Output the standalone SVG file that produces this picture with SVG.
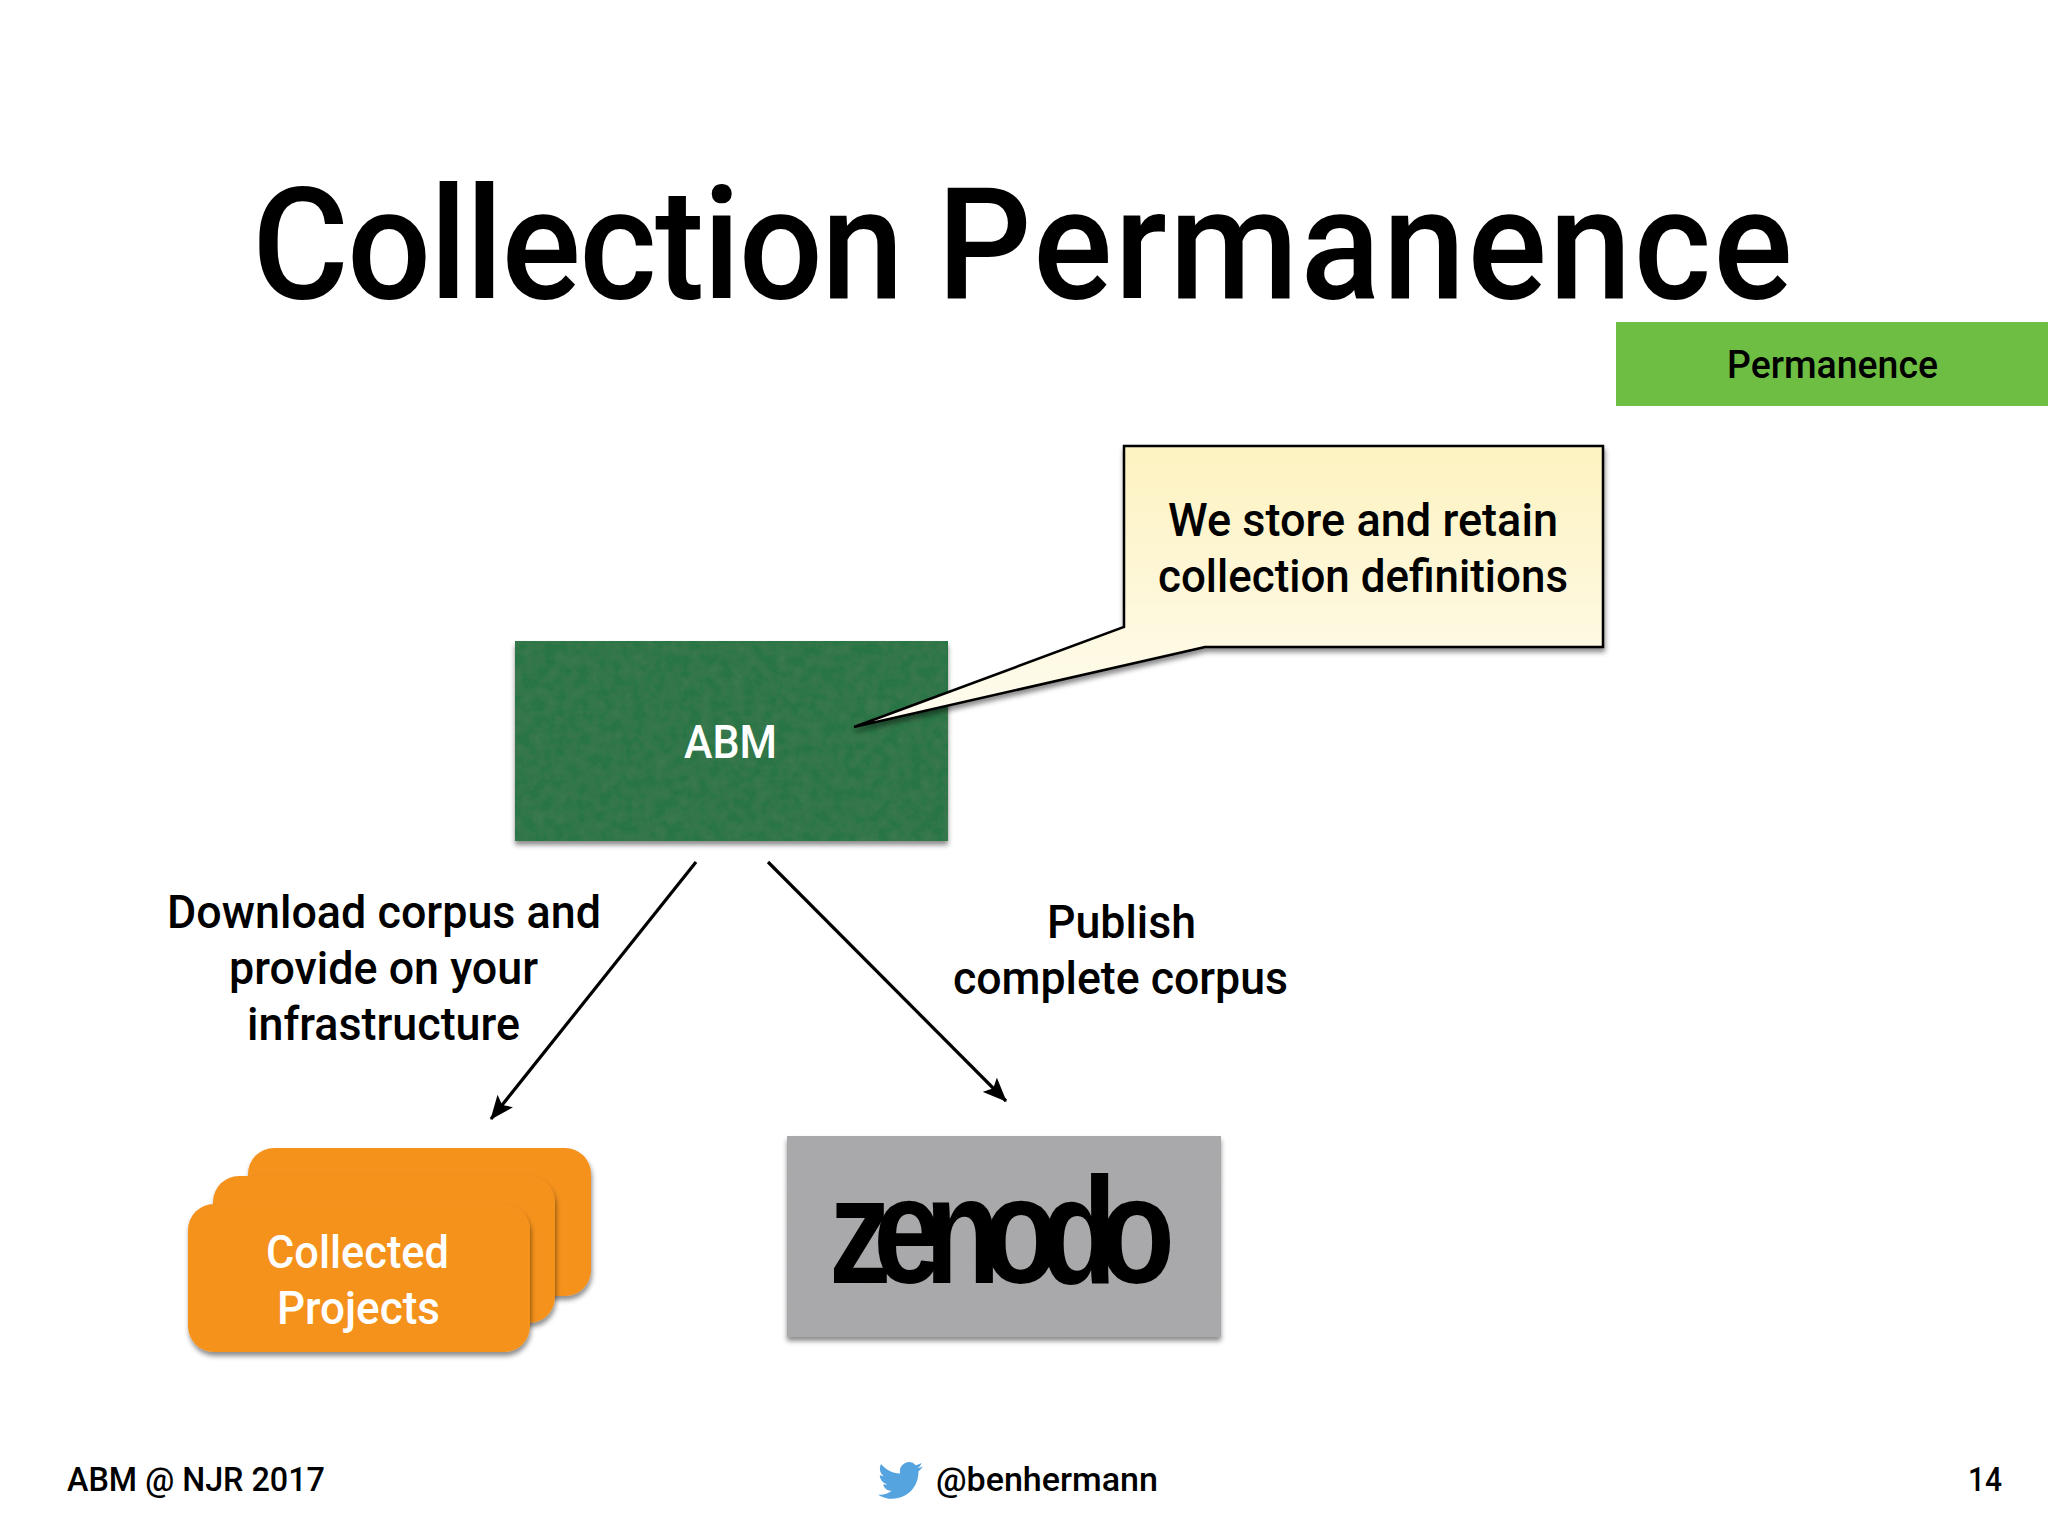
<svg xmlns="http://www.w3.org/2000/svg" width="2048" height="1536" viewBox="0 0 2048 1536">
<style>
text{font-family:"Roboto","Liberation Sans",sans-serif;fill:#000;font-weight:500}
.l{font-size:46px}
.w{fill:#fff}
.f{font-size:33px}
.c{stroke:#000;stroke-width:3.2;fill:none;marker-end:url(#a)}
.o{fill:#f5921e;filter:url(#s)}
</style>
<defs>
<marker id="a" viewBox="0 0 24 20" refX="23" refY="10" markerWidth="24" markerHeight="20" markerUnits="userSpaceOnUse" orient="auto"><path d="M0 0L24 10L0 20L5 10Z" fill="#000"/></marker>
<linearGradient id="y" x1="0" y1="0" x2="0" y2="1"><stop offset="0" stop-color="#fdf2c0"/><stop offset="1" stop-color="#fefcf0"/></linearGradient>
<filter id="s" x="-10%" y="-10%" width="120%" height="125%"><feDropShadow dx="1" dy="4" stdDeviation="2.5" flood-color="#000" flood-opacity=".45"/></filter>
<filter id="g" x="-5%" y="-5%" width="110%" height="115%"><feTurbulence type="fractalNoise" baseFrequency=".09" numOctaves="3" seed="4" result="n"/><feColorMatrix in="n" type="matrix" values="0 0 0 0 .5 0 0 0 0 .5 0 0 0 0 .5 0 0 0 .08 -.02" result="m"/><feComposite in="m" in2="SourceGraphic" operator="in" result="t"/><feMerge result="p"><feMergeNode in="SourceGraphic"/><feMergeNode in="t"/></feMerge><feDropShadow in="p" dx="0" dy="4" stdDeviation="2.5" flood-color="#000" flood-opacity=".45"/></filter>
</defs>
<rect width="2048" height="1536" fill="#fff"/>
<text id="title" x="252" y="298" font-size="155" textLength="1543" lengthAdjust="spacingAndGlyphs"><tspan letter-spacing="-1.8">Collection </tspan><tspan letter-spacing="2.3">Permanence</tspan></text>
<g id="permanence"><rect x="1616" y="322" width="432" height="84" fill="#6fbe44"/><text x="1727" y="378" font-size="39" textLength="211" lengthAdjust="spacingAndGlyphs">Permanence</text></g>
<g id="abm"><rect x="515" y="641" width="433" height="200" fill="#2a7444" filter="url(#g)"/><text class="w" x="684" y="758" font-size="46" textLength="93" lengthAdjust="spacingAndGlyphs">ABM</text></g>
<g id="callout"><path d="M1124 446H1603V647H1205L854 727L1124 627Z" fill="url(#y)" stroke="#000" stroke-width="2.5" stroke-linejoin="miter" filter="url(#s)"/><text class="l" x="1168" y="536" textLength="390" lengthAdjust="spacingAndGlyphs">We store and retain</text><text class="l" x="1158" y="592" textLength="410" lengthAdjust="spacingAndGlyphs">collection definitions</text></g>
<g id="connectors"><path class="c" d="M696 862L491 1119"/><path class="c" d="M768 862L1006 1101"/></g>
<g id="label-download"><text class="l" x="167" y="928" textLength="434" lengthAdjust="spacingAndGlyphs">Download corpus and</text><text class="l" x="229" y="984" textLength="309" lengthAdjust="spacingAndGlyphs">provide on your</text><text class="l" x="247" y="1040" textLength="273" lengthAdjust="spacingAndGlyphs">infrastructure</text></g>
<g id="label-publish"><text class="l" x="1047" y="938" textLength="149" lengthAdjust="spacingAndGlyphs">Publish</text><text class="l" x="953" y="994" textLength="335" lengthAdjust="spacingAndGlyphs">complete corpus</text></g>
<g id="projects"><rect class="o" x="248" y="1148" width="343" height="148" rx="26"/><rect class="o" x="213" y="1176" width="342" height="147" rx="26"/><rect class="o" x="188" y="1204" width="342" height="148" rx="26"/><text class="l w" x="266" y="1268" textLength="183" lengthAdjust="spacingAndGlyphs">Collected</text><text class="l w" x="277" y="1324" textLength="163" lengthAdjust="spacingAndGlyphs">Projects</text></g>
<g id="zenodo"><rect x="787" y="1136" width="434" height="201" fill="#a9a8aa" filter="url(#g)"/><text transform="translate(829 1283) scale(.82 1)" font-size="152" letter-spacing="-22" style="font-family:'Liberation Sans',sans-serif;font-weight:700">zenodo</text></g>
<g id="footer"><text class="f" x="67" y="1491" textLength="258" lengthAdjust="spacingAndGlyphs">ABM @ NJR 2017</text>
<path transform="translate(878 1458) scale(1.875)" fill="#55a4e0" d="M23.95 4.57a10 10 0 01-2.82.77 4.96 4.96 0 002.16-2.72c-.95.55-2 .95-3.12 1.18a4.92 4.92 0 00-8.38 4.48C7.69 8.1 4.07 6.13 1.64 3.16a4.82 4.82 0 00-.67 2.48c0 1.71.87 3.21 2.19 4.1a4.9 4.9 0 01-2.23-.62v.06a4.92 4.92 0 003.95 4.83 5 5 0 01-2.21.08 4.94 4.94 0 004.6 3.42A9.87 9.87 0 010 19.54a14 14 0 007.56 2.21c9.05 0 14-7.5 14-13.98 0-.21 0-.42-.02-.63a9.94 9.94 0 002.46-2.55z"/>
<text class="f" x="936" y="1491" textLength="222" lengthAdjust="spacingAndGlyphs">@benhermann</text><text class="f" x="1968" y="1491" textLength="34" lengthAdjust="spacingAndGlyphs">14</text></g>
</svg>
